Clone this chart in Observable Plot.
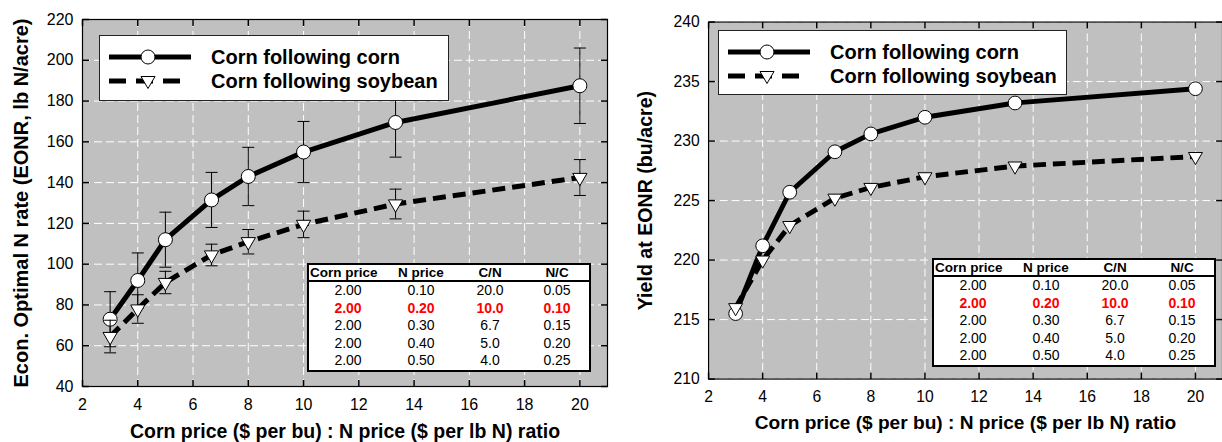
<!DOCTYPE html>
<html><head><meta charset="utf-8">
<script src="https://cdn.jsdelivr.net/npm/d3@7"></script>
<script src="https://cdn.jsdelivr.net/npm/@observablehq/plot@0.6"></script>
<style>
html,body{margin:0;padding:0;background:#fff;overflow:hidden;width:1222px;height:442px;}
#wrap{position:relative;width:1222px;height:442px;overflow:hidden;font-family:Arial,"Liberation Sans",sans-serif;}
.panel{position:absolute;top:0;}
.panel svg{display:block;overflow:visible;}
.legend{position:absolute;background:#fff;border:1px solid #222;box-sizing:border-box;}
.legend svg{position:absolute;left:0;top:0;}
.legend .lt{position:absolute;font-weight:bold;font-size:20px;line-height:22px;color:#000;white-space:nowrap;}
.tbl{position:absolute;background:#fff;border:2px solid #000;box-sizing:border-box;color:#000;}
.tbl .hdr{display:grid;grid-template-columns:78px 68px 70px 64px;height:15px;border-bottom:2px solid #000;font-weight:bold;font-size:13.5px;line-height:15px;}
.tbl .row{display:grid;grid-template-columns:78px 68px 70px 64px;height:17.5px;font-size:14px;line-height:17.5px;}
.tbl .row div,.tbl .hdr div{text-align:center;white-space:nowrap;}
.tbl .hdr div:first-child{text-align:left;padding-left:1px;}
.tbl .row.hi{color:#ff0000;font-weight:bold;}
</style>
</head><body>
<div id="wrap"></div>
<script>
// ---------------- data ----------------
const ratio = [3, 4, 5, 6.67, 8, 10, 13.33, 20];
const eonrCC = [73, 92, 112, 131.5, 143, 155, 169.5, 187.5];
const eonrCCerr = [13.5, 13.5, 13.5, 13.5, 14.3, 15, 17, 18.5];
const eonrSC = [64.5, 78, 91, 104.5, 111, 119.5, 129.5, 142.5];
const eonrSCerr = [8, 7, 5.5, 5.3, 6, 6.5, 7.3, 8.8];
const yieldCC = [215.5, 221.2, 225.7, 229.1, 230.6, 232.0, 233.2, 234.4];
const yieldSC = [216.0, 220.0, 222.9, 225.2, 226.1, 227.0, 227.9, 228.7];

const xTicks = [2, 4, 6, 8, 10, 12, 14, 16, 18, 20];
const eonrTicks = [40, 60, 80, 100, 120, 140, 160, 180, 200, 220];
const yieldTicks = [210, 215, 220, 225, 230, 235, 240];

const seriesNames = ["Corn following corn", "Corn following soybean"];
const xLabel = "Corn price ($ per bu) : N price ($ per lb N) ratio";
const eonrLabel = "Econ. Optimal N rate (EONR, lb N/acre)";
const yieldLabel = "Yield at EONR (bu/acre)";

const tblHeaders = ["Corn price", "N price", "C/N", "N/C"];
const tblCorn = ["2.00", "2.00", "2.00", "2.00", "2.00"];
const tblN = ["0.10", "0.20", "0.30", "0.40", "0.50"];
const tblCN = ["20.0", "10.0", "6.7", "5.0", "4.0"];
const tblNC = ["0.05", "0.10", "0.15", "0.20", "0.25"];
const tblHighlight = 1;

// ---------------- helpers ----------------
const sym = (f) => ({draw(ctx, size) { const l = Math.sqrt(size / Math.PI); f(ctx, l); }});
const capSym = sym((c, l) => { c.moveTo(-l, 0); c.lineTo(l, 0); });
const tUp = sym((c, l) => { c.moveTo(0, 0); c.lineTo(0, -l); });
const tDown = sym((c, l) => { c.moveTo(0, 0); c.lineTo(0, l); });
const tRight = sym((c, l) => { c.moveTo(0, 0); c.lineTo(l, 0); });
const tLeft = sym((c, l) => { c.moveTo(0, 0); c.lineTo(-l, 0); });

function rows(ys, errs) {
  return ratio.map((x, i) => ({x, y: ys[i], e: errs ? errs[i] : 0}));
}

function seriesMarks(data, dashed, withErr) {
  const m = [];
  if (withErr) {
    m.push(Plot.ruleX(data, {x: "x", y1: d => d.y - d.e, y2: d => d.y + d.e, stroke: "#000", strokeWidth: 1}));
    m.push(Plot.dot(data, {x: "x", y: d => d.y + d.e, symbol: capSym, r: 6, stroke: "#000", fill: "none", strokeWidth: 1}));
    m.push(Plot.dot(data, {x: "x", y: d => d.y - d.e, symbol: capSym, r: 6, stroke: "#000", fill: "none", strokeWidth: 1}));
  }
  m.push(Plot.line(data, {x: "x", y: "y", stroke: "#000", strokeWidth: 5, strokeDasharray: dashed ? "13,7" : null, strokeLinejoin: "miter", strokeLinecap: "butt"}));
  if (dashed) m.push(Plot.dot(data, {x: "x", y: "y", symbol: "triangle", rotate: 180, r: 5.3, fill: "#fff", stroke: "#000", strokeWidth: 1}));
  else m.push(Plot.dot(data, {x: "x", y: "y", r: 7, fill: "#fff", stroke: "#000", strokeWidth: 1}));
  return m;
}

function panel({width, marginLeft, marginRight, marginTop, yDomain, yTicks, yLabel, cc, sc, err, yLabelOffset}) {
  const chart = Plot.plot({
    width, height: 442, marginLeft, marginRight, marginTop, marginBottom: 56,
    x: {domain: [2, 21]},
    y: {domain: yDomain},
    style: {fontFamily: "Arial, 'Liberation Sans', sans-serif", fontSize: "16px", background: "transparent", color: "#000"},
    marks: [
      Plot.frame({fill: "#c0c0c0"}),
      Plot.gridX({ticks: xTicks, stroke: "#fff", strokeOpacity: 1, strokeWidth: 1, strokeDasharray: "8,4"}),
      Plot.gridY({ticks: yTicks, stroke: "#fff", strokeOpacity: 1, strokeWidth: 1, strokeDasharray: "8,4"}),
      Plot.dot(xTicks, {x: d => d, frameAnchor: "bottom", symbol: tUp, r: 6.5, stroke: "#000", fill: "none"}),
      Plot.dot(xTicks, {x: d => d, frameAnchor: "top", symbol: tDown, r: 6.5, stroke: "#000", fill: "none"}),
      Plot.dot(yTicks, {y: d => d, frameAnchor: "left", symbol: tRight, r: 6.5, stroke: "#000", fill: "none"}),
      Plot.dot(yTicks, {y: d => d, frameAnchor: "right", symbol: tLeft, r: 6.5, stroke: "#000", fill: "none"}),
      ...seriesMarks(cc, false, err),
      ...seriesMarks(sc, true, err),
      Plot.frame({stroke: "#000", strokeWidth: 1.2}),
      Plot.axisX({ticks: xTicks, tickSize: 0, tickPadding: 12, label: xLabel, labelAnchor: "center", labelOffset: 51, labelArrow: "none"}),
      Plot.axisY({ticks: yTicks, tickSize: 0, tickPadding: 9, label: yLabel, labelAnchor: "center", labelOffset: yLabelOffset, labelArrow: "none"})
    ]
  });
  const s = d3.select(chart);
  s.selectAll('[aria-label="x-axis tick label"] text, [aria-label="y-axis tick label"] text')
    .style("font-size", "16px");
  s.selectAll('[aria-label="x-axis label"] text')
    .style("font-size", "19.5px").style("font-weight", "bold");
  s.selectAll('[aria-label="y-axis label"] text')
    .style("font-size", "20px").style("font-weight", "bold");
  return chart;
}

const wrap = document.getElementById("wrap");

function addPanel(left, chart) {
  const d = document.createElement("div");
  d.className = "panel";
  d.style.left = left + "px";
  d.appendChild(chart);
  wrap.appendChild(d);
}

function addLegend(left, top, w, h) {
  const d = document.createElement("div");
  d.className = "legend";
  Object.assign(d.style, {left: left + "px", top: top + "px", width: w + "px", height: h + "px"});
  const r1 = 21, r2 = 45;
  d.innerHTML = `<svg width="110" height="${h}">
    <line x1="9" x2="91" y1="${r1}" y2="${r1}" stroke="#000" stroke-width="5"/>
    <circle cx="48" cy="${r1}" r="7" fill="#fff" stroke="#000"/>
    <line x1="9" x2="80" y1="${r2}" y2="${r2}" stroke="#000" stroke-width="5" stroke-dasharray="17,10"/>
    <path d="M41,${r2 - 4.5}L55,${r2 - 4.5}L48,${r2 + 7.5}Z" fill="#fff" stroke="#000"/>
  </svg>
  <div class="lt" style="left:111px;top:${r1 - 11}px">${seriesNames[0]}</div>
  <div class="lt" style="left:111px;top:${r2 - 11}px">${seriesNames[1]}</div>`;
  wrap.appendChild(d);
}

function addTable(left, top) {
  const d = document.createElement("div");
  d.className = "tbl";
  Object.assign(d.style, {left: left + "px", top: top + "px", width: "284px", height: "109px"});
  let html = `<div class="hdr">${tblHeaders.map(t => `<div>${t}</div>`).join("")}</div>`;
  tblCorn.forEach((c, i) => {
    html += `<div class="row${i === tblHighlight ? " hi" : ""}"><div>${c}</div><div>${tblN[i]}</div><div>${tblCN[i]}</div><div>${tblNC[i]}</div></div>`;
  });
  d.innerHTML = html;
  wrap.appendChild(d);
}

addPanel(0, panel({
  width: 610, marginLeft: 82, marginRight: 3, marginTop: 19,
  yDomain: [40, 220], yTicks: eonrTicks, yLabel: eonrLabel,
  cc: rows(eonrCC, eonrCCerr), sc: rows(eonrSC, eonrSCerr), err: true, yLabelOffset: 69
}));
addPanel(610, panel({
  width: 624, marginLeft: 100, marginRight: 0, marginTop: 22,
  yDomain: [210, 240], yTicks: yieldTicks, yLabel: yieldLabel,
  cc: rows(yieldCC), sc: rows(yieldSC), err: false, yLabelOffset: 72
}));

addLegend(99, 35, 350, 66);
addLegend(718, 30, 349, 65);
addTable(307, 263);
addTable(932, 258);
</script>
</body></html>
